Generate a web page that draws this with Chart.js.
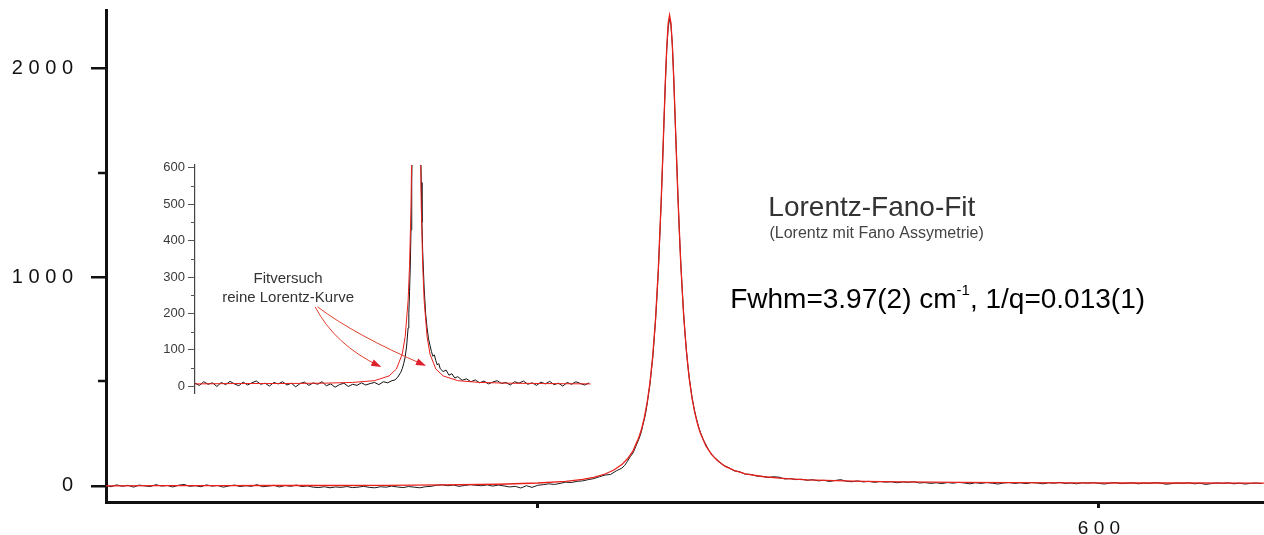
<!DOCTYPE html>
<html>
<head>
<meta charset="utf-8">
<script src="https://cdn.jsdelivr.net/npm/chart.js@4.4.0/dist/chart.umd.min.js"></script>
<style>
  html, body { margin: 0; padding: 0; background: #fff; }
  #wrap { position: relative; width: 1264px; height: 535px; overflow: hidden; }
  #mainChart { position: absolute; left: 0; top: 0; }
  #insetChart { position: absolute; left: 120px; top: 155px; }
</style>
</head>
<body>
<div id="wrap">
  <canvas id="mainChart" width="1264" height="535"></canvas>
  <canvas id="insetChart" width="480" height="245"></canvas>
</div>
<script>
// Main spectrum: measured data (black)
const mainDataX = [
  423,424,425,426,427,428,429,430,431,432,
  433,434,435,436,437,438,439,440,441,442,
  443,444,445,446,447,448,449,450,451,452,
  453,454,455,456,457,458,459,460,461,462,
  463,464,465,466,467,468,469,470,471,472,
  473,474,475,476,477,478,479,480,481,482,
  483,484,485,486,487,488,489,490,491,492,
  493,494,495,496,497,498,499,500,501,502,
  503,504,505,506,507,508,509,510,511,512,
  513,514,515,
  515.5,516,516.5,517,517.5,518,
  518.25,518.5,518.75,519,519.25,519.5,519.75,520,520.25,520.5,520.75,521,
  521.25,521.5,521.75,522,522.25,522.5,522.75,523,523.25,523.5,523.75,524,
  524.25,524.5,524.75,525,525.25,525.5,525.75,526,526.25,526.5,526.75,527,
  527.25,527.5,527.75,528,528.25,528.5,528.75,529,
  529.5,530,530.5,531,531.5,532,532.5,533,
  534,535,536,537,538,539,540,541,542,543,
  544,545,546,547,548,549,550,551,552,553,
  554,555,556,557,558,559,560,561,562,563,
  564,565,566,567,568,569,570,571,572,573,
  574,575,576,577,578,579,580,581,582,583,
  584,585,586,587,588,589,590,591,592,593,
  594,595,596,597,598,599,600,601,602,603,
  604,605,606,607,608,609,610,611,612,613,
  614,615,616,617,618,619,620,621,622,623,
  624,625,626,627,628,629
];
const mainDataY = [
  2,-4,5,-2,3,-6,4,0,-3,6,
  -1,2,-5,3,7,-2,1,-4,5,-1,
  2,-6,0,4,-3,1,-2,6,-4,-1,
  3,-5,2,-2,4,-3,0,-6,-8,-4,
  -9,-5,-7,-3,-8,-6,-2,-7,-9,-4,
  -6,-1,-5,-8,-3,-6,-9,-4,-2,3,
  5,1,4,-2,2,6,3,1,5,-1,
  4,0,-5,-2,-10,1,-7,3,6,10,
  7,12,18,16,22,24,30,35,44,52,
  55,72,85,
  98,118,140,158,190,222,
  240,262,292,318,350,392,438,485,548,612,700,792,
  905,1030,1190,1352,1540,1738,1930,2090,2190,2238,2205,2110,
  1950,1750,1570,1385,1210,1068,940,828,730,650,578,520,
  470,425,388,355,326,300,276,256,
  222,196,170,152,136,125,112,100,
  88,72,68,56,55,47,46,40,44,42,
  33,35,30,32,27,30,24,27,21,26,
  30,22,20,24,19,22,17,21,18,20,
  15,19,17,20,14,16,12,15,11,16,
  13,17,14,10,15,12,16,13,9,14,
  16,12,15,11,16,14,10,15,13,17,
  12,14,10,15,13,16,12,9,14,16,
  11,13,15,10,14,12,16,13,8,11,
  14,12,15,10,13,7,11,14,12,15,
  10,13,9,12,14,11
];

// Main spectrum: Lorentz-Fano fit (red)
const mainFitX = [
  423,433,443,453,463,473,483,493,500,505,508,510,512,513.5,515,516,517,518,
  518.5,519,519.5,520,520.5,521,521.5,522,522.25,522.5,522.75,523,523.25,523.5,
  523.75,524,524.25,524.5,524.75,525,525.5,526,526.5,527,527.5,528,528.5,529,
  530,531,532,533.5,535,537,540,543,548,553,558,565,575,585,595,605,615,629.5
];
const mainFitY = [
  0,1,1,2,2,3,5,8,14,22,31,41,57,75,102,130,168,230,
  271,327,397,492,621,797,1039,1360,1547,1744,1936,2100,2214,2254,
  2216,2105,1945,1756,1562,1378,1060,820,645,515,420,350,295,252,
  190,150,122,92,74,58,45,37,29,25,22,19,17,16,15,14,14,13
];

// Inset: measured data (black)
const insetDataX = [
  372,375,378,381,384,387,390,393,396,399,402,405,408,411,414,417,420,423,426,429,
  432,435,438,441,444,447,450,453,456,459,462,465,468,471,474,477,480,483,486,489,
  492,495,498,501,504,507,
  509,511,513,514,515,516,517,518,518.5,519,519.5,520,520.5,521,521.5,522,522.5,523,
  523.5,524,524.5,525,525.5,526,526.5,527,527.5,528,529,530,531,532,533,534,535,536,
  537,538,539,540,542,544,546,548,550,552,
  555,558,561,564,567,570,573,576,579,582,585,588,591,594,597,600,603,606,609,612,
  615,618,621,624,627,630,633,636,639,642
];
const insetDataY = [
  8,2,12,5,9,-1,10,4,13,6,1,11,3,9,14,5,8,0,10,6,
  12,3,8,-2,7,11,2,9,5,12,1,6,-3,4,8,-1,5,2,9,3,
  7,10,4,12,9,15,
  17,25,38,48,62,80,110,160,200,260,330,430,560,720,960,1300,1720,2100,
  2240,2150,1800,1450,1120,880,700,560,450,370,270,200,160,130,112,95,82,86,
  70,58,62,48,40,44,30,34,22,26,
  16,20,12,17,9,14,6,11,15,7,10,3,12,8,14,5,9,2,11,6,
  13,4,8,0,10,5,12,7,3,9
];

// Inset: pure Lorentz fit attempt (red)
const insetFitX = [
  372,400,430,460,480,495,505,510,514,516,518,519,520,521,521.5,522,522.5,523,523.5,
  524,524.5,525,525.5,526,527,528,529,531,533,537,542,552,567,587,610,643
];
const insetFitY = [
  6,7,7,8,10,15,28,47,88,136,235,332,498,803,1045,1366,1750,2106,2260,
  2106,1750,1366,1045,803,498,332,235,136,88,47,28,15,10,8,7,6
];

// Axis ticks
const xTickValues = [500, 600];
const xTickLabels = ['', '6 0 0'];
const yTickValues = [0, 1000, 2000];
const yTickLabels = ['0', '1 0 0 0', '2 0 0 0'];
const yMinorTicks = [500, 1500];
const insetTickValues = [0, 100, 200, 300, 400, 500, 600];
const insetMinorTicks = [50, 150, 250, 350, 450, 550];

const toPoints = (xs, ys) => xs.map((x, i) => ({ x: x, y: ys[i] }));
const FONT = '"Liberation Sans", Arial, sans-serif';
const RED = '#e8201c';

// Main chart extras: minor ticks and the fit description
const mainNotes = {
  id: 'mainNotes',
  afterDraw(chart) {
    const ctx = chart.ctx;
    const xs = chart.scales.x, ys = chart.scales.y;
    const left = chart.chartArea.left;
    ctx.save();
    ctx.strokeStyle = '#111';
    ctx.lineWidth = 2.5;
    yMinorTicks.forEach(v => {
      const py = Math.round(ys.getPixelForValue(v));
      ctx.beginPath();
      ctx.moveTo(left - 8, py);
      ctx.lineTo(left, py);
      ctx.stroke();
    });

    ctx.textAlign = 'left';
    ctx.textBaseline = 'alphabetic';
    ctx.fillStyle = '#333';
    ctx.font = '28px ' + FONT;
    ctx.fillText('Lorentz-Fano-Fit', xs.getPixelForValue(541.1), ys.getPixelForValue(1292));
    ctx.fillStyle = '#444';
    ctx.font = '16px ' + FONT;
    ctx.fillText('(Lorentz mit Fano Assymetrie)', xs.getPixelForValue(541.3), ys.getPixelForValue(1187));

    // Fwhm line with superscript
    let px = xs.getPixelForValue(534.3);
    const py = ys.getPixelForValue(852);
    ctx.fillStyle = '#000';
    ctx.font = '28px ' + FONT;
    const part1 = 'Fwhm=3.97(2) cm';
    ctx.fillText(part1, px, py);
    px += ctx.measureText(part1).width;
    ctx.font = '15px ' + FONT;
    ctx.fillText('-1', px, py - 13);
    px += ctx.measureText('-1').width;
    ctx.font = '28px ' + FONT;
    ctx.fillText(', 1/q=0.013(1)', px, py);
    ctx.restore();
  }
};

const mainChart = new Chart(document.getElementById('mainChart'), {
  type: 'line',
  data: {
    datasets: [
      { data: toPoints(mainFitX, mainFitY), borderColor: RED, borderWidth: 1.3, pointRadius: 0, tension: 0 },
      { data: toPoints(mainDataX, mainDataY), borderColor: '#1a1a1a', borderWidth: 1, pointRadius: 0, tension: 0 }
    ]
  },
  options: {
    responsive: false,
    animation: false,
    layout: { padding: { top: 10, right: 0, bottom: 0, left: 0 } },
    plugins: { legend: { display: false }, tooltip: { enabled: false } },
    scales: {
      x: {
        type: 'linear',
        min: 423.1,
        max: 629.4,
        afterBuildTicks: s => { s.ticks = xTickValues.map(v => ({ value: v })); },
        afterFit: s => { s.height = 33; s.paddingLeft = 0; s.paddingRight = 0; },
        grid: { drawOnChartArea: false, drawTicks: true, tickLength: 6, lineWidth: 3, color: '#111' },
        border: { display: true, width: 3, color: '#111' },
        ticks: {
          padding: 9,
          color: '#111',
          font: { family: FONT, size: 19 },
          maxRotation: 0,
          callback: (v, i) => xTickLabels[i]
        }
      },
      y: {
        min: -77,
        max: 2278,
        afterBuildTicks: s => { s.ticks = yTickValues.map(v => ({ value: v })); },
        afterFit: s => { s.width = 106; s.paddingTop = 0; s.paddingBottom = 0; },
        grid: { drawOnChartArea: false, drawTicks: true, tickLength: 15, lineWidth: 2.5, color: '#111' },
        border: { display: true, width: 3, color: '#111' },
        ticks: {
          padding: 18,
          color: '#111',
          font: { family: FONT, size: 20 },
          callback: (v, i) => yTickLabels[i]
        }
      }
    }
  },
  plugins: [mainNotes]
});

// Inset extras: minor ticks, label and arrows
function arrow(ctx, x0, y0, cx, cy, x1, y1) {
  ctx.beginPath();
  ctx.moveTo(x0, y0);
  ctx.quadraticCurveTo(cx, cy, x1, y1);
  ctx.stroke();
  const a = Math.atan2(y1 - cy, x1 - cx);
  const len = 8, half = 3.5;
  ctx.beginPath();
  ctx.moveTo(x1 + Math.cos(a) * 2, y1 + Math.sin(a) * 2);
  ctx.lineTo(x1 - Math.cos(a) * len - Math.sin(a) * half, y1 - Math.sin(a) * len + Math.cos(a) * half);
  ctx.lineTo(x1 - Math.cos(a) * len + Math.sin(a) * half, y1 - Math.sin(a) * len - Math.cos(a) * half);
  ctx.closePath();
  ctx.fill();
}

const insetNotes = {
  id: 'insetNotes',
  afterDraw(chart) {
    const ctx = chart.ctx;
    const xs = chart.scales.x, ys = chart.scales.y;
    const left = chart.chartArea.left;
    ctx.save();
    ctx.strokeStyle = '#555';
    ctx.lineWidth = 1;
    insetMinorTicks.forEach(v => {
      const py = Math.round(ys.getPixelForValue(v)) + 0.5;
      ctx.beginPath();
      ctx.moveTo(left - 4, py);
      ctx.lineTo(left, py);
      ctx.stroke();
    });

    ctx.fillStyle = '#333';
    ctx.textAlign = 'center';
    ctx.textBaseline = 'alphabetic';
    ctx.font = '15px ' + FONT;
    ctx.fillText('Fitversuch', xs.getPixelForValue(435.8), ys.getPixelForValue(283));
    ctx.fillText('reine Lorentz-Kurve', xs.getPixelForValue(435.8), ys.getPixelForValue(232));

    ctx.strokeStyle = '#e0402c';
    ctx.fillStyle = '#e0202c';
    ctx.lineWidth = 1;
    arrow(ctx,
      xs.getPixelForValue(454.3), ys.getPixelForValue(218),
      xs.getPixelForValue(468.0), ys.getPixelForValue(113),
      xs.getPixelForValue(498.4), ys.getPixelForValue(55));
    arrow(ctx,
      xs.getPixelForValue(455.9), ys.getPixelForValue(218),
      xs.getPixelForValue(481.7), ys.getPixelForValue(140),
      xs.getPixelForValue(529.0), ys.getPixelForValue(58));
    ctx.restore();
  }
};

const insetChart = new Chart(document.getElementById('insetChart'), {
  type: 'line',
  data: {
    datasets: [
      { data: toPoints(insetFitX, insetFitY), borderColor: RED, borderWidth: 1, pointRadius: 0, tension: 0 },
      { data: toPoints(insetDataX, insetDataY), borderColor: '#111', borderWidth: 1, pointRadius: 0, tension: 0 }
    ]
  },
  options: {
    responsive: false,
    animation: false,
    layout: { padding: { top: 10, right: 8, bottom: 7, left: 0 } },
    plugins: { legend: { display: false }, tooltip: { enabled: false } },
    scales: {
      x: { type: 'linear', display: false, min: 372, max: 644 },
      y: {
        min: -19,
        max: 608,
        afterBuildTicks: s => { s.ticks = insetTickValues.map(v => ({ value: v })); },
        afterFit: s => { s.width = 75; s.paddingTop = 0; s.paddingBottom = 0; },
        grid: { drawOnChartArea: false, drawTicks: true, tickLength: 7, lineWidth: 1, color: '#555' },
        border: { display: true, width: 1.2, color: '#444' },
        ticks: {
          padding: 3,
          color: '#3a3a3a',
          font: { family: FONT, size: 13 }
        }
      }
    }
  },
  plugins: [insetNotes]
});
</script>
</body>
</html>
